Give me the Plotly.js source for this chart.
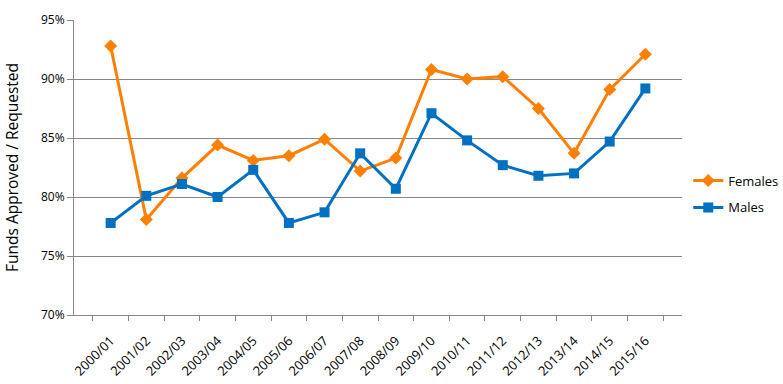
<!DOCTYPE html>
<html>
<head>
<meta charset="utf-8">
<script src="https://cdn.plot.ly/plotly-3.0.1.min.js"></script>
<style>html,body{margin:0;padding:0;background:#fff;}#chart{width:783px;height:384px;}</style>
</head>
<body>
<div id="chart"></div>
<script>
const years = ["2000/01","2001/02","2002/03","2003/04","2004/05","2005/06","2006/07","2007/08","2008/09","2009/10","2010/11","2011/12","2012/13","2013/14","2014/15","2015/16"];
const females = [92.8, 78.1, 81.6, 84.4, 83.1, 83.5, 84.9, 82.2, 83.3, 90.8, 90.0, 90.2, 87.5, 83.7, 89.1, 92.1];
const males = [77.8, 80.1, 81.1, 80.0, 82.3, 77.8, 78.7, 83.7, 80.7, 87.1, 84.8, 82.7, 81.8, 82.0, 84.7, 89.2];
const yTicks = [70, 75, 80, 85, 90, 95];
const yTickText = ["70%", "75%", "80%", "85%", "90%", "95%"];

const font = "Open Sans, DejaVu Sans, sans-serif";
const data = [
  {x: years, y: females, name: "Females", legendgroup: "f", type: "scatter", mode: "lines+markers",
   line: {color: "#FF7F00", width: 3}, marker: {symbol: "diamond", size: 10, color: "#FF7F00"}},
  {x: years, y: males, name: "Males", legendgroup: "m", type: "scatter", mode: "lines+markers",
   line: {color: "#0070C0", width: 3}, marker: {symbol: "square", size: 10, color: "#0070C0"}}
];
const layout = {
  width: 783, height: 384,
  margin: {l: 74, r: 101, t: 20, b: 69},
  paper_bgcolor: "#fff", plot_bgcolor: "#fff",
  font: {family: font, size: 12, color: "#000"},
  showlegend: true,
  legend: {xref: "container", x: 0.879, xanchor: "left", y: 0.41, yanchor: "middle",
           traceorder: "grouped", tracegroupgap: 7, itemwidth: 30,
           font: {family: font, size: 13, color: "#000"}},
  xaxis: {type: "category", tickangle: -45, showgrid: false, showline: true, linecolor: "#878787", linewidth: 1,
          ticks: "outside", tickson: "boundaries", ticklen: 5, tickcolor: "#878787", ticklabelstandoff: 12,
          tickfont: {family: font, size: 13, color: "#000"}},
  yaxis: {range: [70, 95], tickmode: "array", tickvals: yTicks, ticktext: yTickText,
          showgrid: true, gridcolor: "#878787", gridwidth: 1,
          showline: true, linecolor: "#878787", ticks: "outside", ticklen: 6, tickcolor: "#878787", zeroline: false,
          tickfont: {family: font, size: 12, color: "#000"},
          title: {text: "Funds Approved / Requested", font: {family: font, size: 15.5, color: "#000"}, standoff: 18}}
};
Plotly.newPlot("chart", data, layout, {displayModeBar: false, staticPlot: true});
</script>
</body>
</html>
